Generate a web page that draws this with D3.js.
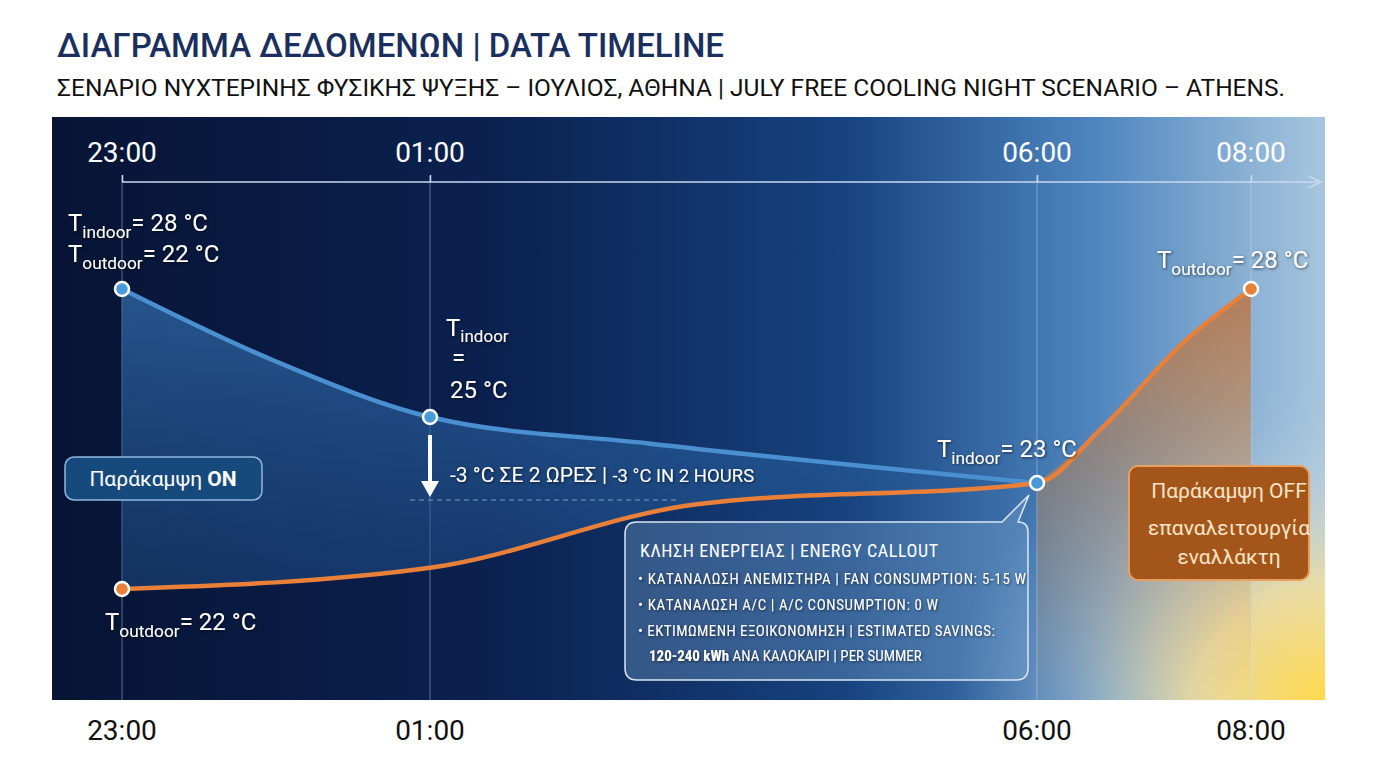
<!DOCTYPE html>
<html><head><meta charset="utf-8">
<script src="https://cdn.jsdelivr.net/npm/d3@7"></script>
<style>body{margin:0;background:#fff;font-family:Roboto,"Noto Sans",sans-serif}</style>
</head><body><svg id="c" width="1376" height="768"></svg>
<script>
const timeLabels = ["23:00","01:00","06:00","08:00"];
const timeHours = [0,2,7,9];
const indoorHours = [0,1,2,3.8,7];
const indoorTemps = [28,26.3,25,24.2,23];
const outdoorHours = [0,2,4.2,7,7.6,8.4,9];
const outdoorTemps = [22,22.2,22.8,23,24.4,26.7,28];

const svg = d3.select("#c");
const P = {x0:52,x1:1325,y0:117,y1:700};
const x = d3.scaleLinear().domain(timeHours).range([122,430,1037,1251]);
const yIn = d3.scaleLinear().domain([23,25,28]).range([483,417,289]);
const yOut = d3.scaleLinear().domain([22,23,28]).range([589,483,289]);

const defs = svg.append("defs");
const lg = defs.append("linearGradient").attr("id","bg");
[[0,"#071434"],[0.35,"#0b2150"],[0.62,"#16427e"],[0.82,"#4f86bf"],[1,"#a8c6de"]].forEach(s=>lg.append("stop").attr("offset",s[0]).attr("stop-color",s[1]));
const rg = defs.append("radialGradient").attr("id","sun").attr("cx","1").attr("cy","1").attr("r","0.55");
[[0,"#ffd84a",1],[0.35,"#f7e09a",0.85],[0.7,"#c9d6d8",0.35],[1,"#a0c0e0",0]].forEach(s=>rg.append("stop").attr("offset",s[0]).attr("stop-color",s[1]).attr("stop-opacity",s[2]));
const fb = defs.append("linearGradient").attr("id","fb").attr("x1",0).attr("y1",0).attr("x2",0).attr("y2",1);
fb.append("stop").attr("offset",0).attr("stop-color","#2f6aa8").attr("stop-opacity",0.75);
fb.append("stop").attr("offset",1).attr("stop-color","#1b4a85").attr("stop-opacity",0.35);
const fo = defs.append("linearGradient").attr("id","fo").attr("x1",0).attr("y1",0).attr("x2",0).attr("y2",1);
fo.append("stop").attr("offset",0).attr("stop-color","#c07038").attr("stop-opacity",0.8);
fo.append("stop").attr("offset",1).attr("stop-color","#e0a050").attr("stop-opacity",0);
const sh = defs.append("filter").attr("id","sh");
sh.append("feDropShadow").attr("dx",1).attr("dy",1).attr("stdDeviation",1.5).attr("flood-color","#000").attr("flood-opacity",0.6);

svg.append("rect").attr("x",P.x0).attr("y",P.y0).attr("width",P.x1-P.x0).attr("height",P.y1-P.y0).attr("fill","url(#bg)");
svg.append("rect").attr("x",P.x0+600).attr("y",P.y0).attr("width",P.x1-P.x0-600).attr("height",P.y1-P.y0).attr("fill","url(#sun)");

svg.append("text").attr("x",57).attr("y",57).attr("font-size",33).attr("fill","#1b2f5e").attr("font-weight",500).text("ΔΙΑΓΡΑΜΜΑ ΔΕΔΟΜΕΝΩΝ | DATA TIMELINE");
svg.append("text").attr("x",57).attr("y",96).attr("font-size",24.5).attr("fill","#111").text("ΣΕΝΑΡΙΟ ΝΥΧΤΕΡΙΝΗΣ ΦΥΣΙΚΗΣ ΨΥΞΗΣ – ΙΟΥΛΙΟΣ, ΑΘΗΝΑ | JULY FREE COOLING NIGHT SCENARIO – ATHENS.");

timeHours.forEach(h=>svg.append("line").attr("x1",x(h)).attr("x2",x(h)).attr("y1",176).attr("y2",P.y1).attr("stroke","#c8d8f0").attr("stroke-opacity",0.45).attr("stroke-width",1));
const topAx = svg.append("g").attr("transform","translate(0,182)");
topAx.call(d3.axisTop(x).tickValues(timeHours).tickFormat(()=>"").tickSize(7).tickSizeOuter(0));
topAx.selectAll("line,path").attr("stroke","#c8d8f0").attr("stroke-width",1.5);
topAx.select("path.domain").attr("d",`M${x(0)},0H1318`);
topAx.append("path").attr("d","M1308,-6L1321,0L1308,6").attr("fill","none").attr("stroke","#c8d8f0").attr("stroke-width",1.5);
timeHours.forEach((h,i)=>{
  svg.append("text").attr("x",x(h)).attr("y",162).attr("text-anchor","middle").attr("font-size",28).attr("fill","#fff").text(timeLabels[i]);
  svg.append("text").attr("x",x(h)).attr("y",740).attr("text-anchor","middle").attr("font-size",28).attr("fill","#111").text(timeLabels[i]);
});

const inData = indoorHours.map((h,i)=>[h,indoorTemps[i]]);
const outData = outdoorHours.map((h,i)=>[h,outdoorTemps[i]]);
const lineIn = d3.line().x(d=>x(d[0])).y(d=>yIn(d[1])).curve(d3.curveMonotoneX);
const lineOut = d3.line().x(d=>x(d[0])).y(d=>yOut(d[1])).curve(d3.curveMonotoneX);
const areaIn = d3.area().x(d=>x(d[0])).y0(P.y1).y1(d=>yIn(d[1])).curve(d3.curveMonotoneX);
const areaOut = d3.area().x(d=>x(d[0])).y0(P.y1).y1(d=>yOut(d[1])).curve(d3.curveMonotoneX);

defs.append("clipPath").attr("id","aboveOut").append("path")
  .attr("d",lineOut(outData)+`L${x(9)},${P.y0}L${x(0)},${P.y0}Z`);
svg.append("path").attr("fill","url(#fb)").attr("clip-path","url(#aboveOut)").attr("d",areaIn(inData));
svg.append("path").attr("fill","url(#fo)").attr("d",areaOut(outData.filter(d=>d[0]>=7)));

svg.append("path").attr("d",lineIn(inData)).attr("fill","none").attr("stroke","#4a90d0").attr("stroke-width",4.5);
svg.append("path").attr("d",lineOut(outData)).attr("fill","none").attr("stroke","#e8803a").attr("stroke-width",4.5);

const pts = [[0,yIn(28),"#4a9ad8"],[2,yIn(25),"#4a9ad8"],[7,yIn(23),"#4a9ad8"],[0,yOut(22),"#e8803a"],[9,yOut(28),"#e8803a"]];
pts.forEach(p=>svg.append("circle").attr("cx",x(p[0])).attr("cy",p[1]).attr("r",7).attr("fill",p[2]).attr("stroke","#fff").attr("stroke-width",2.5));

function tlabel(px,py,sub,val,size){
  const t = svg.append("text").attr("x",px).attr("y",py).attr("font-size",size).attr("fill","#fff").attr("filter","url(#sh)");
  t.append("tspan").text("T");
  t.append("tspan").attr("font-size",size*0.72).attr("dy",size*0.28).text(sub);
  t.append("tspan").attr("dy",-size*0.28).text(val);
}
tlabel(68,231,"indoor","= 28 °C",24);
tlabel(68,262,"outdoor","= 22 °C",24);
tlabel(1157,268,"outdoor","= 28 °C",24);
tlabel(937,457,"indoor","= 23 °C",24);
tlabel(105,630,"outdoor","= 22 °C",24);
const t2 = svg.append("text").attr("font-size",24).attr("fill","#fff").attr("filter","url(#sh)");
t2.append("tspan").attr("x",446).attr("y",336).text("T");
t2.append("tspan").attr("font-size",17).attr("dy",6).text("indoor");
t2.append("tspan").attr("x",452).attr("y",366).text("=");
t2.append("tspan").attr("x",450).attr("y",398).text("25 °C");

svg.append("line").attr("x1",430).attr("x2",430).attr("y1",435).attr("y2",482).attr("stroke","#fff").attr("stroke-width",4);
svg.append("path").attr("d","M421,481L439,481L430,497Z").attr("fill","#fff");
svg.append("line").attr("x1",410).attr("x2",680).attr("y1",500).attr("y2",500).attr("stroke","#c8d8f0").attr("stroke-opacity",0.6).attr("stroke-dasharray","5,4");
const dt = svg.append("text").attr("x",450).attr("y",482).attr("font-size",21).attr("fill","#fff").attr("filter","url(#sh)");
dt.append("tspan").text("-3 °C ΣΕ 2 ΩΡΕΣ | ");
dt.append("tspan").attr("font-size",18.5).text("-3 °C IN 2 HOURS");

svg.append("rect").attr("x",65).attr("y",457).attr("width",197).attr("height",43).attr("rx",9).attr("fill","#174a7c").attr("stroke","#8fb8e0").attr("stroke-width",1.5);
const on = svg.append("text").attr("x",163).attr("y",486).attr("text-anchor","middle").attr("font-size",21).attr("fill","#fff");
on.append("tspan").text("Παράκαμψη ");on.append("tspan").attr("font-weight",700).text("ON");

svg.append("rect").attr("x",1129).attr("y",466).attr("width",180).attr("height",114).attr("rx",9).attr("fill","#a4561a").attr("stroke","#e8a060").attr("stroke-width",2);
[["Παράκαμψη OFF",498],["επαναλειτουργία",535],["εναλλάκτη",564]].forEach(s=>svg.append("text").attr("x",1229).attr("y",s[1]).attr("text-anchor","middle").attr("font-size",21).attr("fill","#f8e4c8").text(s[0]));

svg.append("path").attr("d",`M637,522H1002L${x(7)-8},${yIn(23)+12}L1018,522Q1028,522 1028,532V668Q1028,680 1016,680H637Q625,680 625,668V534Q625,522 637,522Z`)
  .attr("fill","#7aa5cf").attr("fill-opacity",0.35).attr("stroke","#d8e6f4").attr("stroke-width",1.5);
const cf = "'Liberation Sans Narrow','Roboto Condensed',Roboto,sans-serif";
svg.append("text").attr("x",640).attr("y",557).attr("font-size",18).attr("font-family",cf).attr("fill","#fff").attr("textLength",298).text("ΚΛΗΣΗ ΕΝΕΡΓΕΙΑΣ | ENERGY CALLOUT");
[["• ΚΑΤΑΝΑΛΩΣΗ ΑΝΕΜΙΣΤΗΡΑ | FAN CONSUMPTION: 5-15 W",584,388],["• ΚΑΤΑΝΑΛΩΣΗ A/C | A/C CONSUMPTION: 0 W",610,300],["• ΕΚΤΙΜΩΜΕΝΗ ΕΞΟΙΚΟΝΟΜΗΣΗ | ESTIMATED SAVINGS:",636,357]]
 .forEach(s=>svg.append("text").attr("x",638).attr("y",s[1]).attr("font-size",15).attr("font-family",cf).attr("fill","#fff").attr("filter","url(#sh)").attr("textLength",s[2]).text(s[0]));
const l4 = svg.append("text").attr("x",649).attr("y",661).attr("font-size",15).attr("font-family",cf).attr("fill","#fff").attr("filter","url(#sh)");
l4.append("tspan").attr("font-weight",700).text("120-240 kWh");
l4.append("tspan").text(" ΑΝΑ ΚΑΛΟΚΑΙΡΙ | PER SUMMER");
</script></body></html>
